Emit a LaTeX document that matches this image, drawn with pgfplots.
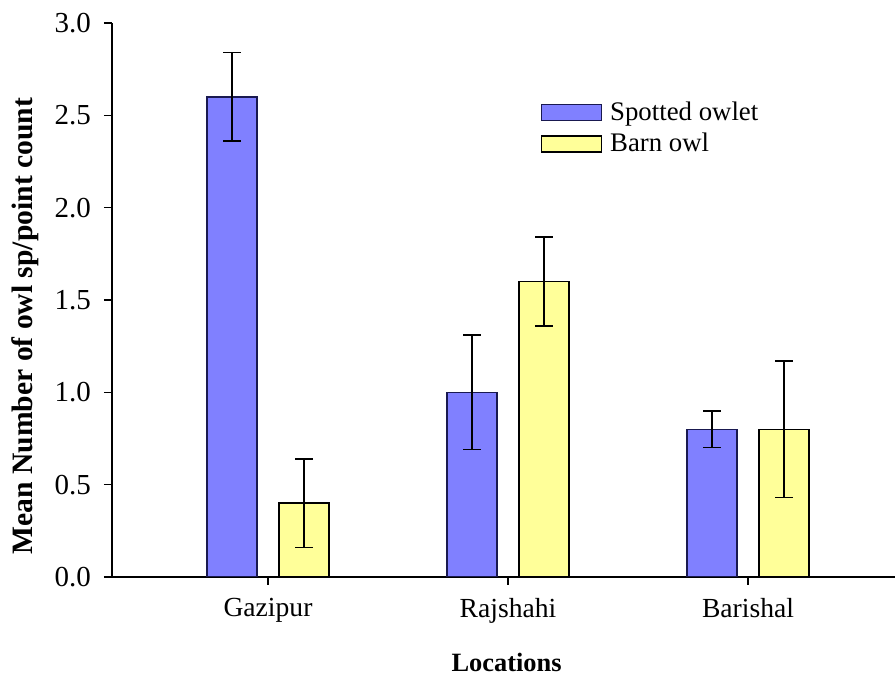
\documentclass[border=0pt]{standalone}
\usepackage{fontspec}
\setmainfont{Liberation Serif}
\usepackage{pgfplots}
\pgfplotsset{compat=1.18}
\definecolor{bluefill}{RGB}{128,128,255}
\definecolor{blueedge}{RGB}{25,25,80}
\definecolor{yellowfill}{RGB}{255,255,153}
\begin{document}
\begin{tikzpicture}
\useasboundingbox (-56pt,-49pt) rectangle (391.5pt,288.5pt);
\begin{axis}[
  scale only axis,
  width=391.5pt, height=277pt,
  at={(0,0)}, anchor=south west,
  ybar=11pt, bar width=25pt,
  xmin=-0.65, xmax=2.6125,
  ymin=0, ymax=3.0,
  xtick={0,1,2},
  xticklabels={Gazipur,Rajshahi,Barishal},
  ytick={0,0.5,1,1.5,2,2.5,3},
  axis lines=left,
  axis line style={-, line width=1pt},
  tick style={line width=0.8pt, black},
  tick align=outside,
  major tick length=4pt,
  yticklabel style={/pgf/number format/fixed, /pgf/number format/fixed zerofill, /pgf/number format/precision=1, font=\fontsize{14.5}{16}\selectfont, xshift=-3pt},
  /pgf/number format/assume math mode=true,
  xticklabel style={font=\fontsize{13.8}{15}\selectfont, yshift=-3pt},
  ylabel={\textbf{Mean Number of owl sp/point count}},
  xlabel={\textbf{Locations}},
  every axis y label/.style={at={(axis description cs:-0.111,0.453)}, rotate=90, anchor=center, font=\fontsize{14.8}{16}\selectfont},
  every axis x label/.style={at={(axis description cs:0.504,-0.155)}, anchor=center, font=\fontsize{13.2}{16}\selectfont},
  legend style={at={(axis description cs:0.547,0.866)}, anchor=north west, draw=none, fill=none, font=\fontsize{13.4}{15}\selectfont, row sep=1pt, inner sep=0pt, nodes={inner xsep=4pt}},
  legend cell align=left,
  legend image code/.code={\draw[#1] (0pt,-4pt) rectangle (30pt,4pt);},
  error bars/y dir=both, error bars/y explicit,
  error bars/error mark options={rotate=90, mark size=4.3pt, line width=0.75pt},
  error bars/error bar style={line width=0.75pt, black},
]
\addplot[fill=bluefill, draw=blueedge, line width=0.75pt] coordinates {
  (0,2.6) +- (0,0.24)
  (1,1.0) +- (0,0.31)
  (2,0.8) +- (0,0.10)
};
\addplot[fill=yellowfill, draw=black, line width=0.75pt] coordinates {
  (0,0.4) +- (0,0.24)
  (1,1.6) +- (0,0.24)
  (2,0.8) +- (0,0.37)
};
\legend{Spotted owlet, Barn owl}
\end{axis}
\end{tikzpicture}
\end{document}
